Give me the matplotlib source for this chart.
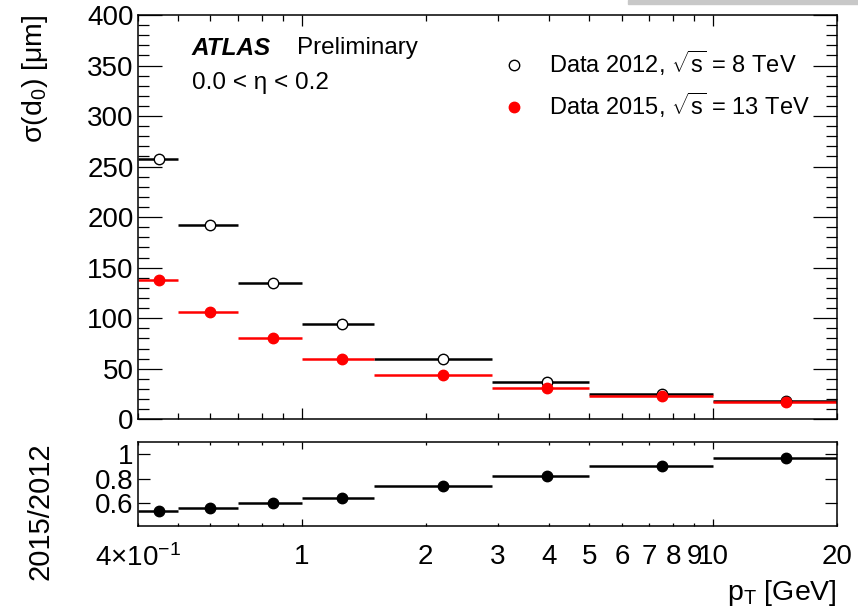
import matplotlib.pyplot as plt
from matplotlib.lines import Line2D
from matplotlib.patches import Rectangle
from matplotlib.ticker import MultipleLocator, NullFormatter

plt.rcParams['font.family'] = ['Liberation Sans', 'DejaVu Sans']
plt.rcParams['mathtext.fontset'] = 'custom'
plt.rcParams['mathtext.rm'] = 'Liberation Sans'
plt.rcParams['mathtext.it'] = 'Liberation Sans:italic'
plt.rcParams['mathtext.bf'] = 'Liberation Sans:bold'

# bins in pT [GeV] and mean pT of each bin
binEdges = [0.4, 0.5, 0.7, 1.0, 1.5, 2.9, 5.0, 10.0, 20.0]
ptMean = [0.45, 0.6, 0.85, 1.25, 2.2, 3.95, 7.5, 15.0]

# sigma(d0) in um
sigma2012 = [257.2, 192.2, 135.2, 94.0, 59.4, 37.4, 25.3, 17.9]
sigma2015 = [137.8, 106.5, 80.1, 60.0, 43.8, 30.7, 23.0, 17.4]

# ratio 2015/2012
ratio = [0.535, 0.555, 0.595, 0.64, 0.74, 0.82, 0.90, 0.97]
ratioErr = [0.004, 0.004, 0.004, 0.004, 0.004, 0.005, 0.008, 0.03]

xLow = [ptMean[i] - binEdges[i] for i in range(len(ptMean))]
xHigh = [binEdges[i + 1] - ptMean[i] for i in range(len(ptMean))]

majorTicks = [1, 10]
minorTicks = [0.4, 0.5, 0.6, 0.7, 0.8, 0.9, 2, 3, 4, 5, 6, 7, 8, 9, 20]
minorLabels = ['4$\\times$10$^{-1}$', '', '', '', '', '', '2', '3', '4', '5', '6', '7', '8', '9', '20']

fig = plt.figure(figsize=(8.58, 6.11), dpi=100)
ax1 = fig.add_axes([0.1608, 0.3137, 0.8147, 0.6618])
ax2 = fig.add_axes([0.1608, 0.1391, 0.8147, 0.1375])

# top panel
ax1.errorbar(ptMean, sigma2012, xerr=[xLow, xHigh], fmt='o', color='black',
             mfc='white', mec='black', ms=7.5, mew=1.0, elinewidth=1.8, capsize=0)
ax1.errorbar(ptMean, sigma2015, xerr=[xLow, xHigh], fmt='o', color='red',
             mfc='red', mec='red', ms=7.5, elinewidth=1.8, capsize=0)
ax1.set_xscale('log')
ax1.set_xlim(0.4, 20)
ax1.set_ylim(0, 400)
ax1.set_xticks(majorTicks)
ax1.set_xticks(minorTicks, minor=True)
ax1.xaxis.set_major_formatter(NullFormatter())
ax1.xaxis.set_minor_formatter(NullFormatter())
ax1.yaxis.set_major_locator(MultipleLocator(50))
ax1.yaxis.set_minor_locator(MultipleLocator(10))
ax1.tick_params(which='both', direction='in', top=True, right=True, width=0.9)
ax1.tick_params(axis='x', which='major', length=8)
ax1.tick_params(axis='x', which='minor', length=4)
ax1.tick_params(axis='y', which='major', length=17, labelsize=20, pad=3)
ax1.tick_params(axis='y', which='minor', length=8)

ax1.text(0.077, 0.918, 'ATLAS', transform=ax1.transAxes, fontsize=17.5,
         fontweight='bold', fontstyle='italic', va='center')
ax1.text(0.227, 0.918, 'Preliminary', transform=ax1.transAxes, fontsize=17.5, va='center')
ax1.text(0.077, 0.832, '0.0 < η < 0.2', transform=ax1.transAxes, fontsize=17.5, va='center')

handles = [Line2D([], [], ls='none', marker='o', mfc='white', mec='black', ms=7.5),
           Line2D([], [], ls='none', marker='o', mfc='red', mec='red', ms=7.5)]
labels = ['Data 2012, $\\sqrt{\\mathrm{s}}$ = 8 TeV', 'Data 2015, $\\sqrt{\\mathrm{s}}$ = 13 TeV']
ax1.legend(handles, labels, loc='upper left', bbox_to_anchor=(0.508, 0.94),
           frameon=False, fontsize=17, handlelength=1.0, handletextpad=0.95,
           labelspacing=0.55, borderaxespad=0)

# ratio panel
ax2.errorbar(ptMean, ratio, xerr=[xLow, xHigh], yerr=ratioErr, fmt='o', color='black',
             ms=7.5, elinewidth=1.8, capsize=0)
ax2.set_xscale('log')
ax2.set_xlim(0.4, 20)
ax2.set_ylim(0.41, 1.1)
ax2.set_yticks([0.6, 0.8, 1.0], ['0.6', '0.8', '1'])
ax2.set_xticks(majorTicks, ['1', '10'])
ax2.set_xticks(minorTicks, minorLabels, minor=True)
ax2.tick_params(which='both', direction='in', top=True, right=True, width=0.9)
ax2.tick_params(axis='x', which='major', length=5, labelsize=20, pad=13)
ax2.tick_params(axis='x', which='minor', length=2.5, labelsize=20, pad=13)
ax2.tick_params(axis='y', which='major', length=8.5, labelsize=20, pad=3)

for ax in [ax1, ax2]:
    for s in ax.spines.values():
        s.set_linewidth(1.1)

fig.text(35 / 858, 0.9755, 'σ(d$_0$) [μm]', rotation=90, ha='center', va='top', fontsize=20.5)
fig.text(40 / 858, 0.2766, '2015/2012', rotation=90, ha='center', va='top', fontsize=21)
fig.text(0.9755, 11 / 611, 'p$_\\mathrm{T}$ [GeV]', ha='right', va='baseline', fontsize=20.5)

# grey strip on the top right of the screenshot
fig.patches.append(Rectangle((628 / 858, 1 - 4 / 611), 230 / 858, 4 / 611,
                             transform=fig.transFigure, color='#c8c8c8', zorder=0))

fig.savefig('out.png', dpi=100)
